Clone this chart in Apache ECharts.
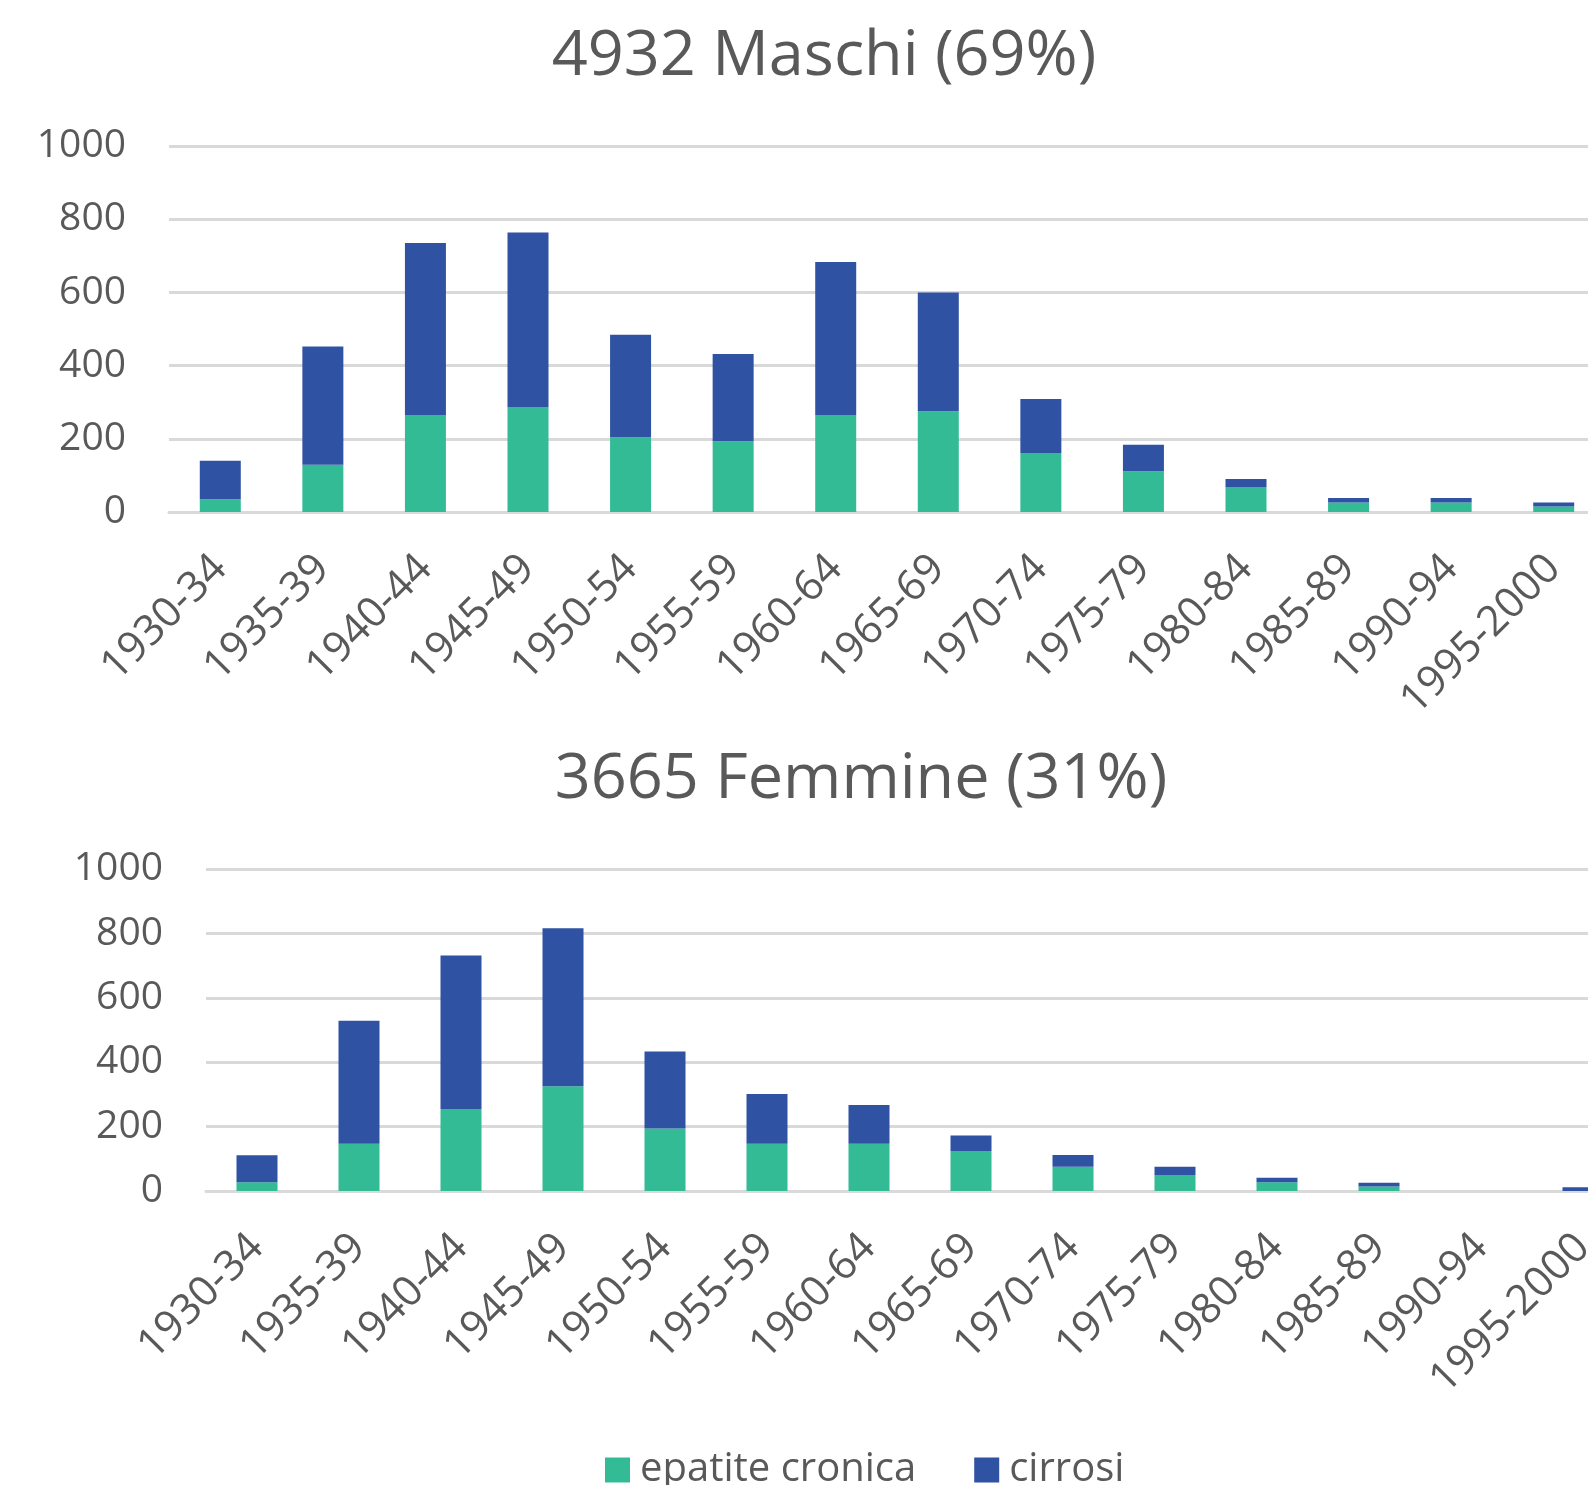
<!DOCTYPE html>
<html>
<head>
<meta charset="utf-8">
<script src="https://cdn.jsdelivr.net/npm/echarts@6/dist/echarts.min.js"></script>
<style>
  html, body { margin: 0; padding: 0; background: #fff; }
  #chart { width: 1588px; height: 1485px; }
</style>
</head>
<body>
<div id="chart"></div>
<script>
const categories = ['1930-34', '1935-39', '1940-44', '1945-49', '1950-54', '1955-59', '1960-64',
  '1965-69', '1970-74', '1975-79', '1980-84', '1985-89', '1990-94', '1995-2000']

// Maschi
const maleEpatite = [35, 129, 265, 287, 204, 193, 265, 275, 161, 111, 68, 26, 26, 15]
const maleCirrosi = [105, 323, 470, 477, 280, 239, 418, 325, 148, 73, 22, 12, 12, 11]

// Femmine
const femaleEpatite = [27, 147, 255, 325, 194, 147, 147, 124, 75, 50, 27, 14, 0, 0]
const femaleCirrosi = [84, 382, 476, 491, 239, 154, 120, 48, 37, 25, 14, 12, 0, 12]

const yTicks = [0, 200, 400, 600, 800, 1000]

const GREEN = '#33bb96'
const BLUE = '#2f52a3'
const TEXT = '#595959'
const GRID_LINE = '#d9d9d9'
const FONT = "'Open Sans', sans-serif"

const chart = echarts.init(document.getElementById('chart'), null, { renderer: 'canvas' })

function xAxis(gridIndex) {
  return {
    type: 'category',
    gridIndex,
    data: categories,
    axisLine: { lineStyle: { color: GRID_LINE, width: 3 } },
    axisTick: { show: false },
    axisLabel: { rotate: 45, margin: 50, interval: 0, color: TEXT, fontSize: 42, fontFamily: FONT },
  }
}

function yAxis(gridIndex) {
  return {
    type: 'value',
    gridIndex,
    min: yTicks[0],
    max: yTicks[yTicks.length - 1],
    interval: 200,
    axisLine: { show: false },
    axisTick: { show: false },
    splitLine: { lineStyle: { color: GRID_LINE, width: 3 } },
    axisLabel: { margin: 43, color: TEXT, fontSize: 39, fontFamily: FONT, formatter: (v) => String(v) },
  }
}

function bar(name, data, color, idx) {
  return {
    name,
    type: 'bar',
    stack: 'g' + idx,
    xAxisIndex: idx,
    yAxisIndex: idx,
    data,
    barWidth: 41,
    itemStyle: { color },
  }
}

chart.setOption({
  animation: false,
  backgroundColor: '#fff',
  title: [
    {
      text: '4932 Maschi (69%)',
      left: 824, top: 57, padding: 0,
      textAlign: 'center', textVerticalAlign: 'middle',
      textStyle: { color: TEXT, fontSize: 63, fontWeight: 'normal', fontFamily: FONT },
    },
    {
      text: '3665 Femmine (31%)',
      left: 861, top: 780, padding: 0,
      textAlign: 'center', textVerticalAlign: 'middle',
      textStyle: { color: TEXT, fontSize: 63, fontWeight: 'normal', fontFamily: FONT },
    },
  ],
  legend: {
    data: ['epatite cronica', 'cirrosi'],
    left: 605, top: 1450, padding: 0,
    itemWidth: 25, itemHeight: 25, itemGap: 58,
    icon: 'rect',
    textStyle: { color: TEXT, fontSize: 40, fontFamily: FONT, padding: [0, 0, 0, 5] },
  },
  grid: [
    { left: 169, top: 146, width: 1436, height: 366, outerBoundsMode: 'none' },
    { left: 206, top: 869, width: 1428, height: 322, outerBoundsMode: 'none' },
  ],
  xAxis: [xAxis(0), xAxis(1)],
  yAxis: [yAxis(0), yAxis(1)],
  series: [
    bar('epatite cronica', maleEpatite, GREEN, 0),
    bar('cirrosi', maleCirrosi, BLUE, 0),
    bar('epatite cronica', femaleEpatite, GREEN, 1),
    bar('cirrosi', femaleCirrosi, BLUE, 1),
  ],
})
</script>
</body>
</html>
